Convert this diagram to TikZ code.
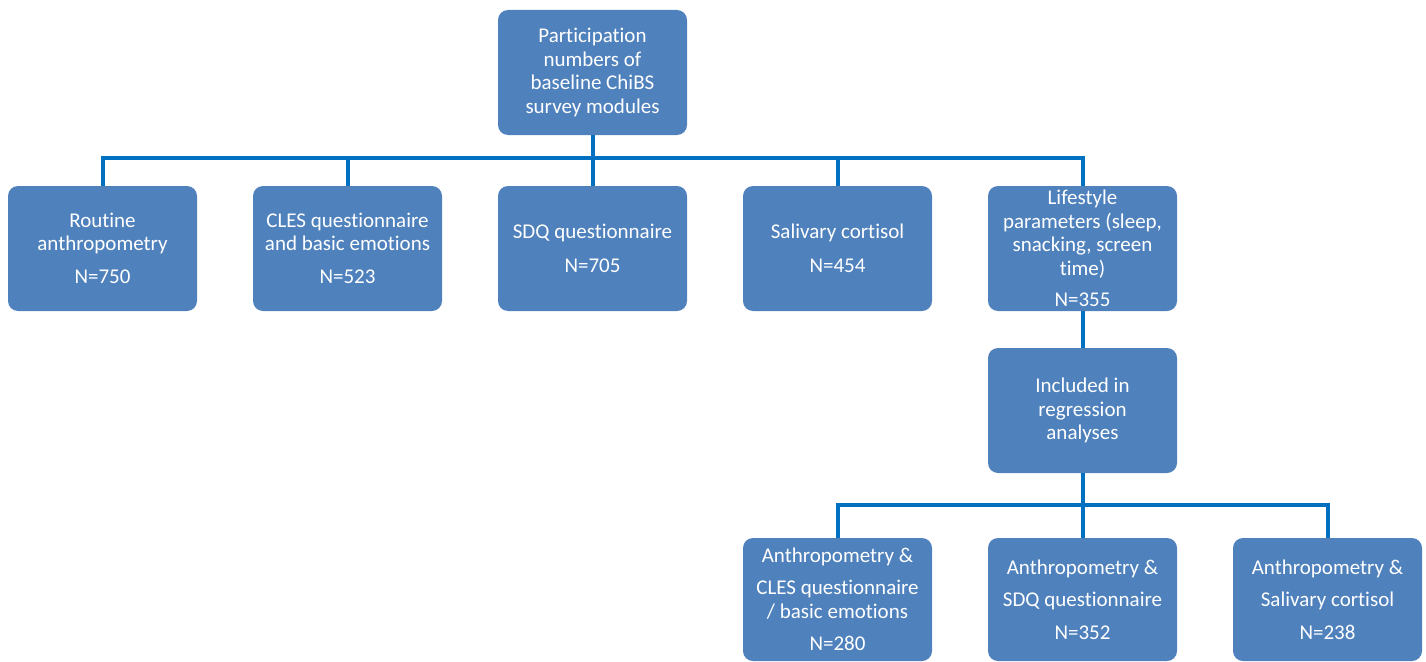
\documentclass[tikz,border=0pt]{standalone}
\usepackage{fontspec}
\setmainfont{Carlito}[Ligatures={NoCommon}]
\definecolor{boxblue}{HTML}{4F81BD}
\definecolor{lineblue}{HTML}{0070C0}
\begin{document}
\begin{tikzpicture}[x=1pt,y=-1pt,
  box/.style={fill=boxblue, draw=none, rounded corners=10pt, minimum width=189pt, minimum height=125pt,
    text=white, align=center, inner sep=0pt, font=\fontsize{21}{23.5}\selectfont},
  conn/.style={draw=lineblue, line width=4pt}]
\useasboundingbox (0,0) rectangle (1426,661);
\node[box] (top) at (592.5,72.5) {Participation\\numbers of\\baseline ChiBS\\survey modules};
\node[box] (c1) at (102.5,248.5) {Routine\\anthropometry\\[9.5pt]N=750};
\node[box] (c2) at (347.5,248.5) {CLES questionnaire\\and basic emotions\\[9.5pt]N=523};
\node[box] (c3) at (592.5,248.5) {SDQ questionnaire\\[10pt]N=705};
\node[box] (c4) at (837.5,248.5) {Salivary cortisol\\[10pt]N=454};
\node[box] (c5) at (1082.5,248.5) {Lifestyle\\parameters (sleep,\\snacking, screen\\time)\\[7.5pt]N=355};
\node[box] (inc) at (1082.5,410.5) {Included in\\regression\\analyses};
\node[box, minimum height=123pt] (d1) at (837.5,599.5) {Anthropometry \&\\[8.5pt]CLES questionnaire\\/ basic emotions\\[8.5pt]N=280};
\node[box, minimum height=123pt] (d2) at (1082.5,599.5) {Anthropometry \&\\[9pt]SDQ questionnaire\\[9pt]N=352};
\node[box, minimum height=123pt] (d3) at (1327.5,599.5) {Anthropometry \&\\[9pt]Salivary cortisol\\[9pt]N=238};
\coordinate (bus1) at (592.5,158);
\coordinate (bus2) at (1082.5,505);
\draw[conn] (top.south) -- (bus1);
\foreach \c in {c1,c2,c3,c4,c5} \draw[conn] (bus1) -| (\c.north);
\draw[conn] (c5.south) -- (inc.north);
\draw[conn] (inc.south) -- (bus2);
\foreach \c in {d1,d2,d3} \draw[conn] (bus2) -| (\c.north);
\end{tikzpicture}
\end{document}
